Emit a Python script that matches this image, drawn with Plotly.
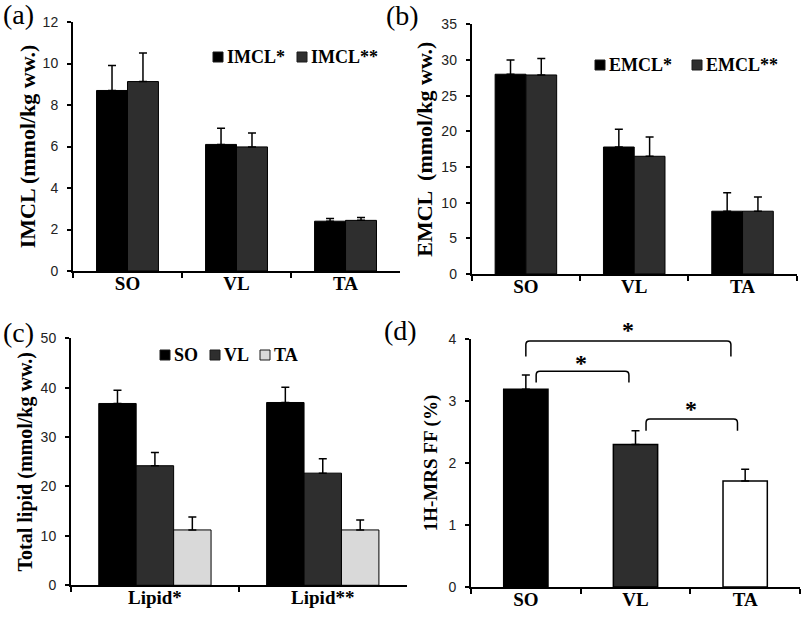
import plotly.graph_objects as go

# ---------------- data ----------------
muscles = ["SO", "VL", "TA"]

imcl_1 = [8.7, 6.1, 2.4]
imcl_1_err = [1.2, 0.78, 0.13]
imcl_2 = [9.13, 5.98, 2.44]
imcl_2_err = [1.38, 0.67, 0.14]

emcl_1 = [28.0, 17.8, 8.8]
emcl_1_err = [2.0, 2.5, 2.6]
emcl_2 = [27.9, 16.5, 8.8]
emcl_2_err = [2.3, 2.7, 2.0]

lipid_groups = ["Lipid*", "Lipid**"]
lipid_so = [36.8, 37.0]
lipid_so_err = [2.7, 3.1]
lipid_vl = [24.2, 22.7]
lipid_vl_err = [2.7, 2.9]
lipid_ta = [11.2, 11.2]
lipid_ta_err = [2.6, 2.0]

ff = [3.19, 2.30, 1.71]
ff_err = [0.23, 0.22, 0.19]

# significance brackets for panel (d): (x_left, x_right, top_y, leg_bottom_y, star_x, star_y)
brackets = [
    (0.0, 1.87, 3.97, 3.72, 0.93, 4.15),
    (0.094, 0.94, 3.48, 3.30, 0.50, 3.62),
    (1.096, 1.93, 2.71, 2.52, 1.51, 2.87),
]

# ---------------- style ----------------
W, H = 802, 620
BLACK = "#000000"
DARK = "#2e2e2e"
LIGHT = "#d9d9d9"
SERIF = "Liberation Serif"
SANS = "Liberation Sans"

fig = go.Figure()


def err(arr):
    return dict(type="data", array=arr, arrayminus=[0] * len(arr), symmetric=False,
                color=BLACK, thickness=1.5, width=4)


line = dict(color=BLACK, width=1)

# panel (a)
wa = 0.284
fig.add_trace(go.Bar(x=muscles, y=imcl_1, name="IMCL*", marker=dict(color=BLACK, line=line),
                     error_y=err(imcl_1_err), width=wa, offset=-wa, xaxis="x", yaxis="y"))
fig.add_trace(go.Bar(x=muscles, y=imcl_2, name="IMCL**", marker=dict(color=DARK, line=line),
                     error_y=err(imcl_2_err), width=wa, offset=0, xaxis="x", yaxis="y"))
# panel (b)
fig.add_trace(go.Bar(x=muscles, y=emcl_1, name="EMCL*", marker=dict(color=BLACK, line=line),
                     error_y=err(emcl_1_err), width=wa, offset=-wa, xaxis="x2", yaxis="y2"))
fig.add_trace(go.Bar(x=muscles, y=emcl_2, name="EMCL**", marker=dict(color=DARK, line=line),
                     error_y=err(emcl_2_err), width=wa, offset=0, xaxis="x2", yaxis="y2"))
# panel (c)
wc = 0.223
for name, vals, e, col, off in [("SO", lipid_so, lipid_so_err, BLACK, -1.5 * wc),
                                 ("VL", lipid_vl, lipid_vl_err, DARK, -0.5 * wc),
                                 ("TA", lipid_ta, lipid_ta_err, LIGHT, 0.5 * wc)]:
    fig.add_trace(go.Bar(x=lipid_groups, y=vals, name=name, marker=dict(color=col, line=line),
                         error_y=err(e), width=wc, offset=off, xaxis="x3", yaxis="y3"))
# panel (d)
fig.add_trace(go.Bar(x=muscles, y=ff, name="1H-MRS FF",
                     marker=dict(color=[BLACK, DARK, "#ffffff"], line=dict(color=BLACK, width=1.5)),
                     error_y=err(ff_err), width=0.404, xaxis="x4", yaxis="y4"))

# ---------------- axes ----------------
xcat = dict(type="category", showline=True, linecolor=BLACK, linewidth=2, ticks="outside",
            tickson="boundaries", ticklen=5, tickwidth=2, tickcolor=BLACK,
            tickfont=dict(family=SERIF, size=19, color=BLACK, weight="bold"),
            ticklabelstandoff=-6, showgrid=False, zeroline=False, fixedrange=True)
ybase = dict(showline=True, linecolor=BLACK, linewidth=2, ticks="outside", ticklen=4,
             tickwidth=2, tickcolor=BLACK, tickfont=dict(family=SANS, size=14, color="#222222"),
             ticklabelstandoff=6, showgrid=False, zeroline=False, automargin=False)


def yt(text, size, standoff):
    return dict(text=text, font=dict(family=SERIF, size=size, color=BLACK, weight="bold"),
                standoff=standoff)


dom_d = [0.0532, 0.4532]
range_d = [0, 4]
fig.update_layout(
    xaxis=dict(xcat, domain=[0.091, 0.4988], anchor="y"),
    yaxis=dict(ybase, domain=[0.5629, 0.9645], range=[0, 12], dtick=2, anchor="x",
               title=yt("IMCL (mmol/kg ww.)", 22, 1)),
    xaxis2=dict(xcat, domain=[0.5882, 0.9934], anchor="y2"),
    yaxis2=dict(ybase, domain=[0.5581, 0.9608], range=[0, 35], dtick=5, anchor="x2",
                title=yt("EMCL  (mmol/kg ww.)", 22, 3)),
    xaxis3=dict(xcat, domain=[0.0885, 0.5071], anchor="y3"),
    yaxis3=dict(ybase, domain=[0.056, 0.4544], range=[0, 50], dtick=10, anchor="x3",
                title=yt("Total lipid (mmol/kg ww.)", 20, 3)),
    xaxis4=dict(xcat, domain=[0.5873, 0.9975], anchor="y4"),
    yaxis4=dict(ybase, domain=dom_d, range=range_d, dtick=1, anchor="x4",
                title=yt("1H-MRS FF (%)", 19, 6)),
)

fig.update_layout(
    width=W, height=H, margin=dict(l=0, r=0, t=0, b=0),
    paper_bgcolor="white", plot_bgcolor="white", barmode="group",
    showlegend=False,
)

# ---------------- legends (drawn keys + labels) ----------------
legfont = dict(family=SERIF, size=18, color=BLACK, weight="bold")
legend_items = [
    # (label, colour, key left px, key top px, text left px)
    ("IMCL*", BLACK, 213, 52, 225),
    ("IMCL**", DARK, 297, 52, 309),
    ("EMCL*", BLACK, 595, 60, 607),
    ("EMCL**", DARK, 692, 60, 704),
    ("SO", BLACK, 160, 350, 172),
    ("VL", DARK, 210, 350, 222),
    ("TA", LIGHT, 260, 350, 272),
]
for label, col, kx, ky, tx in legend_items:
    fig.add_shape(type="rect", xref="paper", yref="paper",
                  x0=kx / W, x1=(kx + 10) / W, y0=1 - ky / H, y1=1 - (ky + 10) / H,
                  fillcolor=col, line=dict(color="#1a1a1a", width=1))
    fig.add_annotation(text=label, x=tx / W, y=1 - (ky + 5) / H, xref="paper", yref="paper",
                       showarrow=False, font=legfont, xanchor="left", yanchor="middle")

# panel labels
for txt, x, y in [("(a)", 18, 14), ("(b)", 402, 16), ("(c)", 18, 332), ("(d)", 400, 331)]:
    fig.add_annotation(text=txt, x=x / W, y=1 - y / H, xref="paper", yref="paper",
                       showarrow=False, font=dict(family=SERIF, size=28, color=BLACK),
                       xanchor="center", yanchor="middle")

# significance brackets (panel d)
rx, ry = 0.035, 0.06
for x0, x1, top, bot, sx, sy in brackets:
    path = (f"M {x0},{bot} L {x0},{top - ry} Q {x0},{top} {x0 + rx},{top} "
            f"L {x1 - rx},{top} Q {x1},{top} {x1},{top - ry} L {x1},{bot}")
    fig.add_shape(type="path", path=path, xref="x4", yref="y4",
                  line=dict(color=BLACK, width=1.5))
    # star positioned in paper space so it may sit above the axis range
    py = dom_d[0] + (sy - range_d[0]) / (range_d[1] - range_d[0]) * (dom_d[1] - dom_d[0])
    fig.add_annotation(text="*", x=sx, y=py, xref="x4", yref="paper", showarrow=False,
                       font=dict(family=SERIF, size=24, color=BLACK, weight="bold"),
                       xanchor="center", yanchor="middle")

fig.write_html("out.html", config={"displayModeBar": False},
               post_script="document.body.style.margin='0';")
